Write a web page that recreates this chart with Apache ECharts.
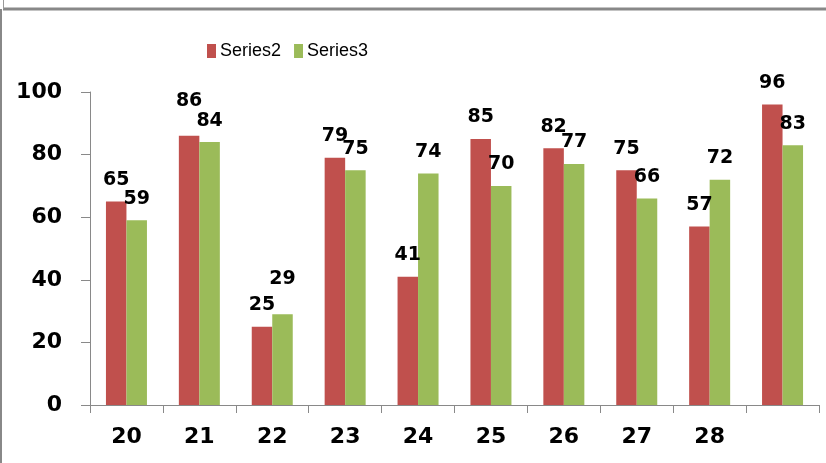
<!DOCTYPE html>
<html>
<head>
<meta charset="utf-8">
<script src="https://cdn.jsdelivr.net/npm/echarts@6/dist/echarts.min.js"></script>
<style>
  html, body { margin: 0; padding: 0; background: #fff; }
  #chart { width: 826px; height: 463px; }
</style>
</head>
<body>
<div id="chart"></div>
<script>
// data
var categories = ['20', '21', '22', '23', '24', '25', '26', '27', '28', ''];
var series2 = [65, 86, 25, 79, 41, 85, 82, 75, 57, 96];
var series3 = [59, 84, 29, 75, 74, 70, 77, 66, 72, 83];
var yTicks = [0, 20, 40, 60, 80, 100];

// labels that Excel nudged up to avoid overlaps (index -> px)
var lift2 = { 1: 13 };
var lift3 = { 2: 14 };

function withLift(values, lift) {
  return values.map(function (v, i) {
    if (lift[i]) {
      return { value: v, label: { offset: [0, -lift[i]] } };
    }
    return v;
  });
}

var chart = echarts.init(document.getElementById('chart'));

var labelStyle = {
  show: true,
  position: 'top',
  distance: 12,
  color: '#000',
  fontFamily: 'DejaVu Sans',
  fontWeight: 'bold',
  fontSize: 19
};

var option = {
  animation: false,
  backgroundColor: '#fff',
  graphic: [
    // outer frame pieces
    { type: 'line', shape: { x1: 3, y1: 9, x2: 826, y2: 9 }, style: { stroke: '#888', lineWidth: 3 } },
    { type: 'line', shape: { x1: 1, y1: 9, x2: 1, y2: 463 }, style: { stroke: '#888', lineWidth: 2 } },
    { type: 'line', shape: { x1: 3.5, y1: 0, x2: 3.5, y2: 9 }, style: { stroke: '#999', lineWidth: 1 } }
  ],
  legend: {
    left: 202,
    top: 37,
    itemWidth: 9,
    itemHeight: 14,
    itemGap: 13,
    icon: 'rect',
    textStyle: {
      fontFamily: 'Liberation Sans',
      fontSize: 18,
      color: '#000',
      padding: [0, 0, 0, -1]
    },
    data: ['Series2', 'Series3']
  },
  grid: {
    left: 90,
    right: 7,
    top: 92,
    bottom: 58,
    containLabel: false
  },
  xAxis: {
    type: 'category',
    data: categories,
    axisLine: { lineStyle: { color: '#898989', width: 1 } },
    axisTick: { show: true, alignWithLabel: false, length: 8, lineStyle: { color: '#898989' } },
    axisLabel: {
      margin: 21,
      color: '#000',
      fontFamily: 'DejaVu Sans',
      fontWeight: 'bold',
      fontSize: 22
    }
  },
  yAxis: {
    type: 'value',
    min: yTicks[0],
    max: yTicks[yTicks.length - 1],
    interval: 20,
    axisLine: { show: true, lineStyle: { color: '#898989', width: 1 } },
    axisTick: { show: true, length: 9, lineStyle: { color: '#898989' } },
    splitLine: { show: false },
    axisLabel: {
      margin: 28,
      color: '#000',
      fontFamily: 'DejaVu Sans',
      fontWeight: 'bold',
      fontSize: 22
    }
  },
  series: [
    {
      name: 'Series2',
      type: 'bar',
      barWidth: 20.5,
      barGap: '0%',
      itemStyle: { color: '#C0504D' },
      label: labelStyle,
      data: withLift(series2, lift2)
    },
    {
      name: 'Series3',
      type: 'bar',
      barWidth: 20.5,
      barGap: '0%',
      itemStyle: { color: '#9BBB59' },
      label: labelStyle,
      data: withLift(series3, lift3)
    }
  ]
};

chart.setOption(option);
</script>
</body>
</html>
